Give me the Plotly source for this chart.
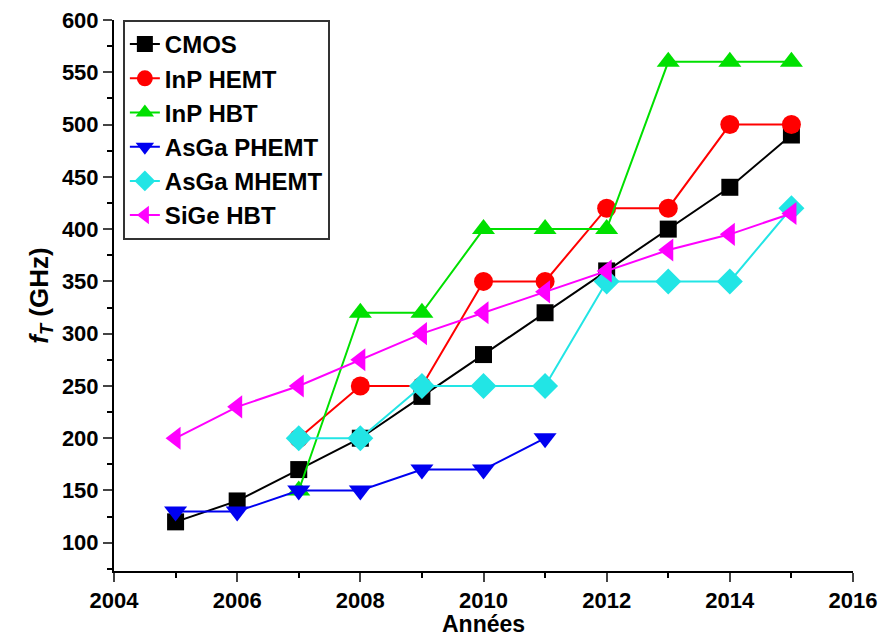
import plotly.graph_objects as go

years = [2005, 2006, 2007, 2008, 2009, 2010, 2011, 2012, 2013, 2014, 2015]
cmos = [120, 140, 170, 200, 240, 280, 320, 360, 400, 440, 490]
inp_hemt_years = [2007, 2008, 2009, 2010, 2011, 2012, 2013, 2014, 2015]
inp_hemt = [200, 250, 250, 350, 350, 420, 420, 500, 500]
inp_hbt_years = [2007, 2008, 2009, 2010, 2011, 2012, 2013, 2014, 2015]
inp_hbt = [150, 320, 320, 400, 400, 400, 560, 560, 560]
asga_phemt_years = [2005, 2006, 2007, 2008, 2009, 2010, 2011]
asga_phemt = [130, 130, 150, 150, 170, 170, 200]
asga_mhemt_years = [2007, 2008, 2009, 2010, 2011, 2012, 2013, 2014, 2015]
asga_mhemt = [200, 200, 250, 250, 250, 350, 350, 350, 420]
sige_hbt = [200, 230, 250, 275, 300, 320, 340, 360, 380, 395, 415]

series = [
    ("CMOS", years, cmos, "#000000", "square", 17),
    ("InP HEMT", inp_hemt_years, inp_hemt, "#FF0000", "circle", 19),
    ("InP HBT", inp_hbt_years, inp_hbt, "#00E000", "triangle-up", 20),
    ("AsGa PHEMT", asga_phemt_years, asga_phemt, "#0000F0", "triangle-down", 20),
    ("AsGa MHEMT", asga_mhemt_years, asga_mhemt, "#22E5E5", "diamond", 20),
    ("SiGe HBT", years, sige_hbt, "#FF00FF", "triangle-left", 20),
]

fig = go.Figure()
for name, xs, ys, col, sym, sz in series:
    fig.add_trace(go.Scatter(
        x=xs, y=ys, name=name, mode="lines+markers",
        line=dict(color=col, width=2),
        marker=dict(symbol=sym, size=sz, color=col),
    ))

fam = "Liberation Sans, Arial"
font = dict(family=fam, size=22, color="black", weight="bold")

fig.update_layout(
    width=884, height=639,
    margin=dict(l=114, r=31, t=20, b=68),
    plot_bgcolor="white", paper_bgcolor="white",
    font=font,
    showlegend=True,
    legend=dict(x=0.012, y=1.0, xanchor="left", yanchor="top",
                bordercolor="#333333", borderwidth=2, bgcolor="white",
                font=dict(family=fam, size=24, color="black", weight="bold"),
                tracegroupgap=0),
    xaxis=dict(range=[2004, 2016], dtick=2, tick0=2004, ticks="outside", ticklen=9, tickwidth=2,
               showline=True, linecolor="black", linewidth=2, showgrid=False, zeroline=False,
               minor=dict(ticks="outside", dtick=1, ticklen=5, tickwidth=2, tickcolor="black"),
               tickfont=font, automargin=False),
    yaxis=dict(range=[73, 600], tick0=100, dtick=50, ticks="outside", ticklen=9, tickwidth=2,
               showline=True, linecolor="black", linewidth=2, showgrid=False, zeroline=False,
               minor=dict(ticks="outside", dtick=25, tick0=100, ticklen=5, tickwidth=2, tickcolor="black"),
               tickfont=font, automargin=False,
               title=dict(text="<i>f</i><sub><i>T</i></sub> (GHz)",
                          font=dict(family=fam, size=26, color="black", weight="bold"), standoff=6)),
    annotations=[dict(text="Années", xref="paper", yref="paper", x=0.5, y=-0.097,
                      xanchor="center", yanchor="middle", showarrow=False,
                      font=dict(family=fam, size=23, color="black", weight="bold"))],
)

fig.write_html("out.html")
